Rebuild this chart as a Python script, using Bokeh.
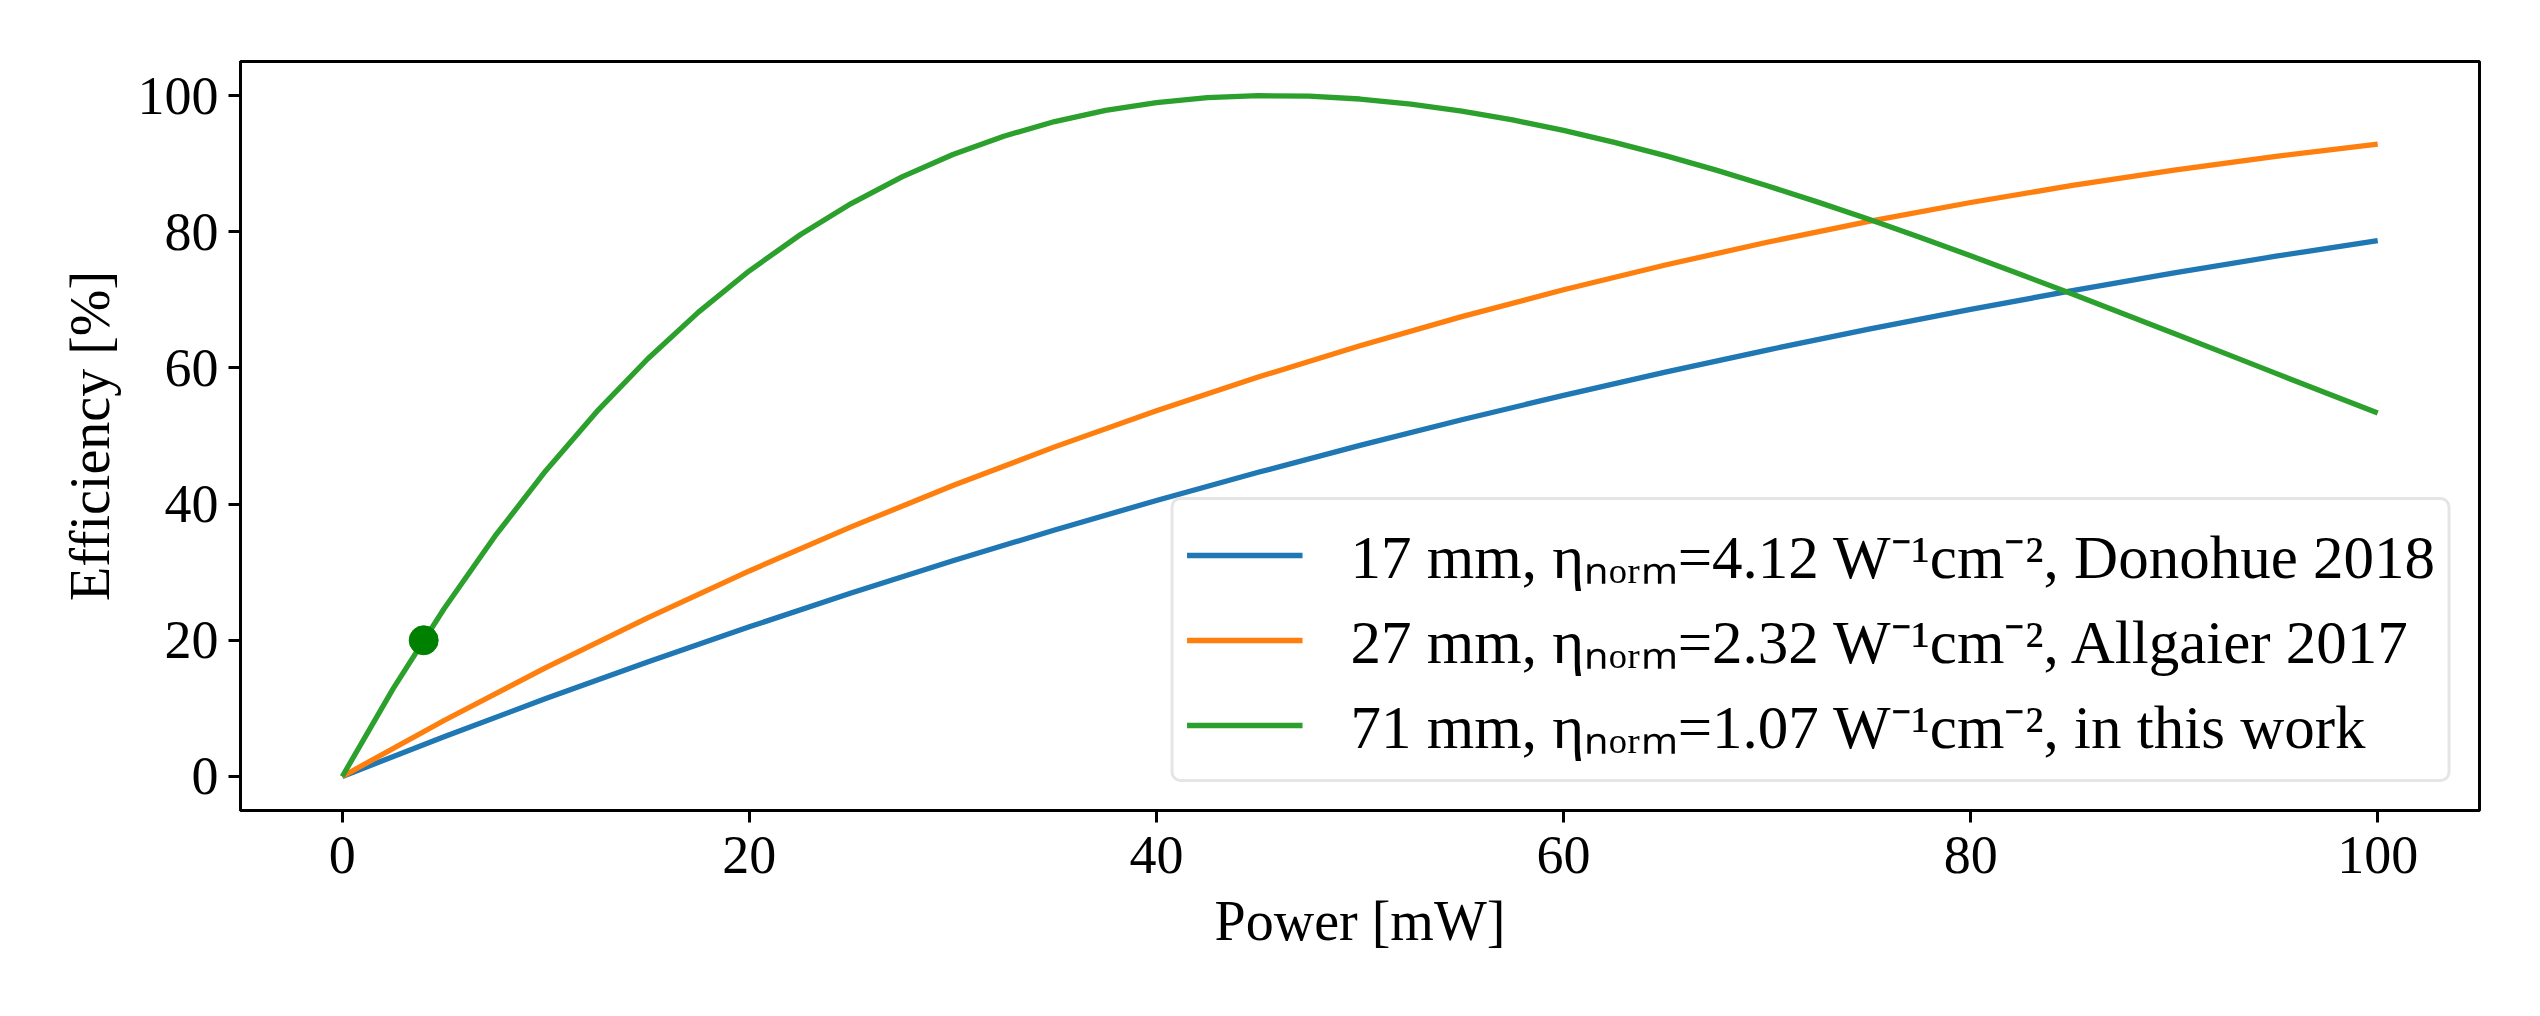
from bokeh.plotting import figure
from bokeh.models import Legend, LegendItem, FixedTicker, Range1d
from bokeh.embed import file_html
from bokeh.resources import INLINE

# ---- data ----
power = [0, 5, 10, 15, 20, 25, 30, 35, 40, 45, 50, 55, 60, 65, 70, 75, 80, 85, 90, 95, 100]
eff_17mm = [0, 5.84, 11.44, 16.82, 21.98, 26.93, 31.67, 36.20, 40.53, 44.67, 48.62,
            52.38, 55.97, 59.38, 62.62, 65.69, 68.60, 71.35, 73.95, 76.40, 78.71]
eff_27mm = [0, 8.22, 15.98, 23.30, 30.18, 36.65, 42.72, 48.40, 53.71, 58.66, 63.26,
            67.53, 71.47, 75.11, 78.45, 81.51, 84.29, 86.80, 89.06, 91.08, 92.87]
power_71mm = [0, 2.5, 5, 7.5, 10, 12.5, 15, 17.5, 20, 22.5, 25, 27.5, 30, 32.5, 35, 37.5, 40,
              42.5, 45, 47.5, 50, 52.5, 55, 57.5, 60, 62.5, 65, 67.5, 70, 72.5, 75, 77.5, 80,
              82.5, 85, 87.5, 90, 92.5, 95, 97.5, 100]
eff_71mm = [0, 12.89, 24.63, 35.28, 44.91, 53.57, 61.31, 68.19, 74.26, 79.56, 84.14, 88.06,
            91.34, 94.03, 96.18, 97.81, 98.97, 99.68, 99.98, 99.91, 99.49, 98.75, 97.72, 96.42,
            94.88, 93.13, 91.17, 89.05, 86.76, 84.35, 81.82, 79.18, 76.47, 73.68, 70.84, 67.96,
            65.05, 62.13, 59.20, 56.27, 53.37]
point_power = [4]
point_eff = [20]
labels = [
    "17 mm, \u03b7\u2099\u2092\u1d63\u2098=4.12 W\u207b\u00b9cm\u207b\u00b2, Donohue 2018",
    "27 mm, \u03b7\u2099\u2092\u1d63\u2098=2.32 W\u207b\u00b9cm\u207b\u00b2, Allgaier 2017",
    "71 mm, \u03b7\u2099\u2092\u1d63\u2098=1.07 W\u207b\u00b9cm\u207b\u00b2, in this work",
]
xticks = [0, 20, 40, 60, 80, 100]
yticks = [0, 20, 40, 60, 80, 100]

FONT = "Liberation Serif"

p = figure(width=2524, height=1000, output_backend="svg", toolbar_location=None,
           x_range=Range1d(-5, 105), y_range=Range1d(-5, 105),
           min_border_left=240, min_border_right=45, min_border_top=61, min_border_bottom=190)
p.background_fill_color = "white"
p.border_fill_color = "white"
p.grid.visible = False
p.outline_line_color = "black"
p.outline_line_width = 3
p.outline_line_alpha = 1

for ax in (p.xaxis[0], p.yaxis[0]):
    ax.axis_line_width = 3
    ax.axis_line_color = "black"
    ax.major_tick_out = 12
    ax.major_tick_in = 0
    ax.major_tick_line_width = 3
    ax.minor_tick_line_color = None
    ax.major_label_text_font = FONT
    ax.major_label_text_font_size = "54px"
    ax.major_label_text_color = "black"
    ax.axis_label_text_font = FONT
    ax.axis_label_text_font_size = "56px"
    ax.axis_label_text_font_style = "normal"
    ax.axis_label_text_color = "black"

p.xaxis.ticker = FixedTicker(ticks=xticks)
p.yaxis.ticker = FixedTicker(ticks=yticks)
p.xaxis.axis_label = "Power [mW]"
p.yaxis.axis_label = "Efficiency [%]"
p.xaxis.major_label_standoff = 14
p.yaxis.major_label_standoff = 10
p.xaxis.axis_label_standoff = 14
p.yaxis.axis_label_standoff = 14

r1 = p.line(power, eff_17mm, line_color="#1f77b4", line_width=5.3, line_join="round")
r2 = p.line(power, eff_27mm, line_color="#ff7f0e", line_width=5.3, line_join="round")
r3 = p.line(power_71mm, eff_71mm, line_color="#2ca02c", line_width=5.3, line_join="round")
p.scatter(point_power, point_eff, size=29, color="green")

legend = Legend(items=[LegendItem(label=labels[0], renderers=[r1]),
                       LegendItem(label=labels[1], renderers=[r2]),
                       LegendItem(label=labels[2], renderers=[r3])],
                location="bottom_right")
legend.label_text_font = FONT
legend.label_text_font_size = "61px"
legend.label_text_color = "black"
legend.glyph_width = 116
legend.glyph_height = 20
legend.label_height = 60
legend.label_standoff = 48
legend.spacing = 2
legend.padding = 13
legend.margin = 28
legend.border_line_color = "#cccccc"
legend.border_line_width = 3
legend.background_fill_color = "white"
legend.background_fill_alpha = 0.8
try:
    legend.border_radius = 10
except Exception:
    pass
p.add_layout(legend)

open("out.html", "w").write(file_html(p, INLINE))
